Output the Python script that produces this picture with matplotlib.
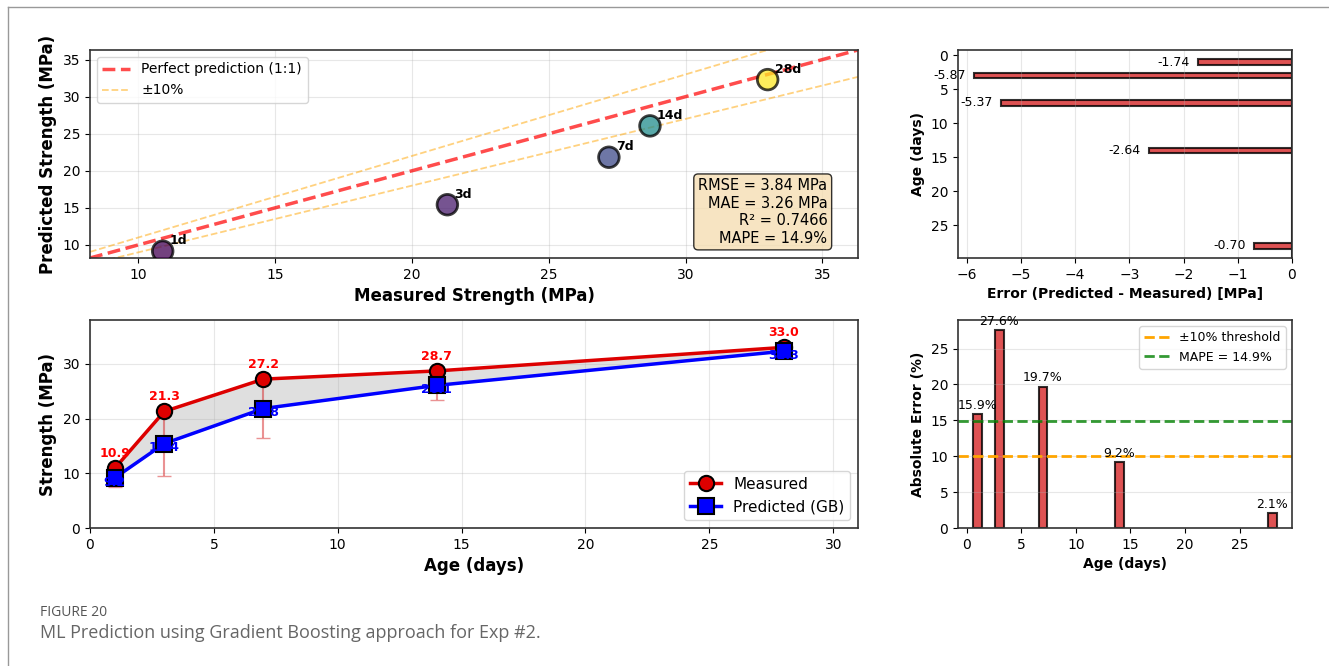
import matplotlib.pyplot as plt
import numpy as np
from matplotlib.lines import Line2D

# Exp #2 compressive strength, measured vs gradient boosting prediction
ages = np.array([1, 3, 7, 14, 28])
measured = np.array([10.9, 21.3, 27.2, 28.7, 33.0])
errors = np.array([-1.74, -5.87, -5.37, -2.64, -0.70])
predicted = measured + errors
abs_err_pct = np.array([15.9, 27.6, 19.7, 9.2, 2.1])
age_labels = ['1d', '3d', '7d', '14d', '28d']

rmse, mae, r2, mape = 3.84, 3.26, 0.7466, 14.9

plt.rcParams['font.family'] = 'DejaVu Sans'
fig = plt.figure(figsize=(13.29, 6.66), dpi=100)

ax1 = fig.add_axes([0.0677, 0.6126, 0.5779, 0.3124])
ax2 = fig.add_axes([0.7208, 0.6126, 0.2513, 0.3124])
ax3 = fig.add_axes([0.0677, 0.2072, 0.5779, 0.3123])
ax4 = fig.add_axes([0.7208, 0.2072, 0.2513, 0.3123])

# --- measured vs predicted scatter
lo = min(measured.min(), predicted.min()) * 0.9
hi = max(measured.max(), predicted.max()) * 1.1
line = np.array([lo, hi])
ax1.scatter(measured, predicted, c=ages, cmap='viridis', s=220, alpha=0.75,
            edgecolors='black', linewidths=2, zorder=3)
ax1.plot(line, line, 'r--', lw=2.5, alpha=0.7, label='Perfect prediction (1:1)')
ax1.plot(line, line * 1.1, '--', color='orange', lw=1.3, alpha=0.5, label='±10%')
ax1.plot(line, line * 0.9, '--', color='orange', lw=1.3, alpha=0.5)
for x, y, lab in zip(measured, predicted, age_labels):
    ax1.annotate(lab, (x, y), xytext=(5, 5), textcoords='offset points',
                 fontsize=9, fontweight='bold')
ax1.set_xlim(lo, hi)
ax1.set_ylim(lo, hi)
ax1.set_xlabel('Measured Strength (MPa)', fontsize=12, fontweight='bold')
ax1.set_ylabel('Predicted Strength (MPa)', fontsize=12, fontweight='bold')
ax1.legend(loc='upper left', fontsize=10)
ax1.grid(True, alpha=0.3)
stats = f'RMSE = {rmse:.2f} MPa\nMAE = {mae:.2f} MPa\nR² = {r2:.4f}\nMAPE = {mape:.1f}%'
ax1.text(0.96, 0.06, stats, transform=ax1.transAxes, fontsize=10.5,
         ha='right', va='bottom',
         bbox=dict(boxstyle='round', facecolor='wheat', alpha=0.8))

# --- error per age
ax2.barh(ages, errors, height=0.8, color='#d62728', alpha=0.8,
         edgecolor='black', linewidth=1.5)
ax2.axvline(0, color='black', lw=1.5)
for a, e in zip(ages, errors):
    ax2.text(e - 0.15, a, f'{e:.2f}', ha='right', va='center', fontsize=9)
ax2.invert_yaxis()
ax2.set_xlabel('Error (Predicted - Measured) [MPa]', fontsize=10, fontweight='bold')
ax2.set_ylabel('Age (days)', fontsize=10, fontweight='bold')
ax2.grid(True, axis='x', alpha=0.3)

# --- strength development
ax3.fill_between(ages, measured, predicted, color='gray', alpha=0.25)
ax3.errorbar(ages, predicted, yerr=np.abs(errors), fmt='none', ecolor='#d62728',
             alpha=0.5, capsize=5, lw=1.5)
ax3.plot(ages, measured, 'o-', color='#dd0000', lw=2.5, markersize=11,
         markeredgecolor='black', markeredgewidth=1.5, label='Measured')
ax3.plot(ages, predicted, 's-', color='blue', lw=2.5, markersize=11,
         markeredgecolor='black', markeredgewidth=1.5, label='Predicted (GB)')
for a, m, p in zip(ages, measured, predicted):
    ax3.annotate(f'{m:.1f}', (a, m), xytext=(0, 6), textcoords='offset points',
                 ha='center', va='bottom', fontsize=9, fontweight='bold', color='red')
    ax3.annotate(f'{p:.1f}', (a, p), xytext=(0, -3), textcoords='offset points',
                 ha='center', va='center', fontsize=9, fontweight='bold', color='blue')
ax3.set_xlim(0, 31)
ax3.set_ylim(0, 38)
ax3.set_xlabel('Age (days)', fontsize=12, fontweight='bold')
ax3.set_ylabel('Strength (MPa)', fontsize=12, fontweight='bold')
ax3.legend(loc='lower right', fontsize=11)
ax3.grid(True, alpha=0.3)

# --- absolute percentage error
ax4.bar(ages, abs_err_pct, width=0.8, color='#d62728', alpha=0.8,
        edgecolor='black', linewidth=1.5)
ax4.axhline(10, color='orange', ls='--', lw=2, label='±10% threshold')
ax4.axhline(mape, color='green', ls='--', lw=2, alpha=0.8, label=f'MAPE = {mape:.1f}%')
for a, v in zip(ages, abs_err_pct):
    ax4.text(a, v + 0.3, f'{v:.1f}%', ha='center', va='bottom', fontsize=9)
ax4.set_xlabel('Age (days)', fontsize=10, fontweight='bold')
ax4.set_ylabel('Absolute Error (%)', fontsize=10, fontweight='bold')
ax4.legend(loc='upper right', fontsize=9)
ax4.grid(True, axis='y', alpha=0.3)

for ax in (ax1, ax2, ax3, ax4):
    for s in ax.spines.values():
        s.set_linewidth(1.2)
        s.set_color('#333333')

# page frame and caption
fig.add_artist(Line2D([0.006, 1.0], [0.9895, 0.9895], color='#999999', lw=1))
fig.add_artist(Line2D([0.006, 0.006], [0.0, 0.9895], color='#999999', lw=1))
fig.text(0.030, 0.080, 'FIGURE 20', fontsize=10, color='#555555', family='Open Sans',
         va='center')
fig.text(0.030, 0.050, 'ML Prediction using Gradient Boosting approach for Exp #2.',
         fontsize=13, color='#666666', family='Open Sans', va='center')

fig.savefig('out.png', dpi=100)
